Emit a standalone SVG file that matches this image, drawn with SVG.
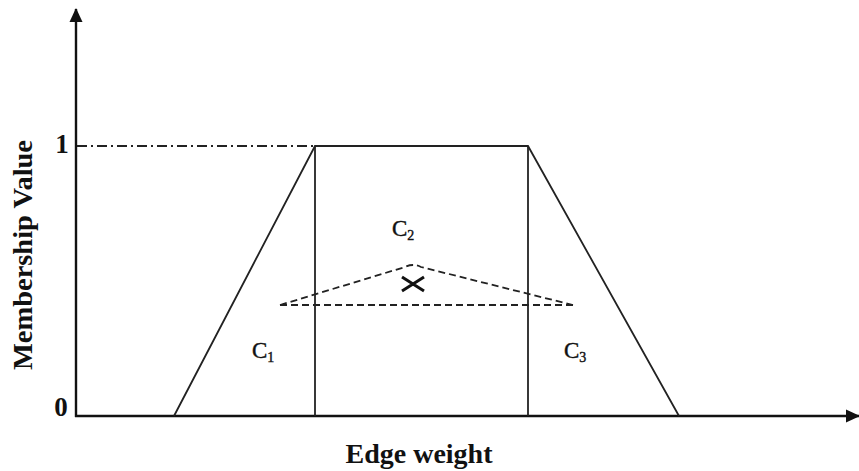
<svg xmlns="http://www.w3.org/2000/svg" width="859" height="471" viewBox="0 0 859 471">
<style>
.ax{stroke:#111;stroke-width:2.4;fill:none}
.ln{stroke:#222;stroke-width:1.8;fill:none}
.ds{stroke:#222;stroke-width:1.8;fill:none;stroke-dasharray:7,4}
.t{font-family:"Liberation Serif",serif;font-weight:bold;fill:#111}
.c{font-family:"Liberation Serif",serif;fill:#111;font-size:23px;stroke:#111;stroke-width:0.4}
</style>
<defs>
<marker id="ar" markerWidth="14" markerHeight="14" refX="13" refY="7" orient="auto" markerUnits="userSpaceOnUse"><path d="M0,0.5 L14,7 L0,13.5 z" fill="#111"/></marker>
</defs>
<rect width="859" height="471" fill="#fff"/>
<g id="axes">
<line class="ax" x1="76" y1="417" x2="76" y2="9" marker-end="url(#ar)"/>
<line class="ax" x1="75" y1="416" x2="859" y2="416" marker-end="url(#ar)"/>
<line class="ln" x1="77" y1="146" x2="313" y2="146" stroke-dasharray="10,4,2,4"/>
</g>
<g id="connectors">
<polyline class="ln" points="174,416 315,146 528,146 679,416"/>
<line class="ln" x1="315" y1="146" x2="315" y2="416"/>
<line class="ln" x1="528" y1="146" x2="528" y2="416"/>
<path class="ds" d="M280,305 L405,267 Q413,263 421,267 L573,305"/>
<line class="ds" x1="280" y1="305" x2="573" y2="305"/>
<path d="M402,277 L424,291 M424,277 L402,291" stroke="#111" stroke-width="3"/>
</g>
<g id="labels">
<text class="t" x="62" y="153" font-size="27" text-anchor="middle">1</text>
<text class="t" x="61" y="416" font-size="27" text-anchor="middle">0</text>
<text class="t" font-size="27" text-anchor="middle" textLength="230" lengthAdjust="spacingAndGlyphs" transform="translate(32,255) rotate(-90)">Membership Value</text>
<text class="t" x="419" y="463" font-size="27" text-anchor="middle" textLength="147" lengthAdjust="spacingAndGlyphs">Edge weight</text>
<text class="c" x="392" y="236">C<tspan font-size="14" dy="4">2</tspan></text>
<text class="c" x="252" y="358">C<tspan font-size="14" dy="4">1</tspan></text>
<text class="c" x="564" y="358">C<tspan font-size="14" dy="4">3</tspan></text>
</g>
</svg>
